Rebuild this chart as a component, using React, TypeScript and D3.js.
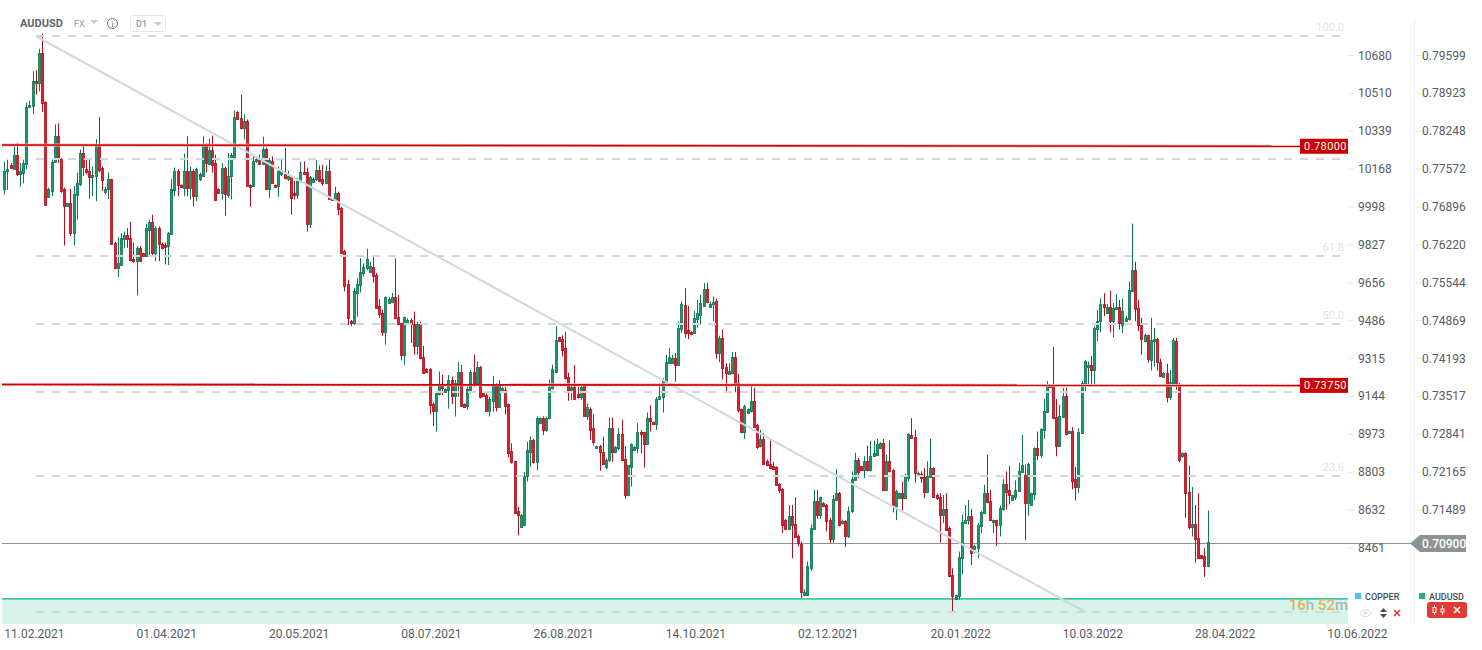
import React from 'react';
import * as d3 from 'd3';

// AUDUSD daily candles, prices in pips (0.7090 = 7090)
const opens = [
  7722,7753,7765,7758,7783,7748,7751,7767,7868,7870,
  7915,7911,7964,7877,7708,7718,7770,7817,7776,7721,
  7691,7697,7643,7711,7730,7786,7758,7754,7743,7745,
  7800,7760,7716,7721,7739,7626,7580,7587,7632,7640,
  7635,7597,7594,7616,7607,7602,7649,7663,7608,7652,
  7623,7621,7620,7642,7720,7753,7729,7724,7754,7723,
  7753,7709,7739,7745,7800,7767,7792,7768,7722,7715,
  7760,7711,7745,7779,7859,7849,7830,7843,7729,7727,
  7771,7774,7766,7793,7721,7772,7729,7727,7749,7749,
  7739,7743,7715,7711,7736,7752,7752,7659,7735,7739,
  7756,7739,7732,7753,7705,7703,7715,
  7688,7611,7552,7486,7482,7536,7550,7572,7580,7573,
  7583,7569,7513,7500,7466,7519,7521,7529,7493,7482,
  7426,7482,7488,7481,7442,7481,7422,7400,7400,7339,
  7326,7356,7372,7360,7363,7381,7353,7372,7395,7338,
  7335,7363,7395,7376,7404,7357,7355,7326,7344,7373,
  7333,7362,7364,7338,7254,7236,7147,7119,7122,7209,
  7253,7274,7234,7304,7313,7292,7313,7366,7396,7457,
  7454,7438,7386,7363,7369,7356,7351,7372,7317,7330,
  7295,7259,7263,7252,7226,7238,7295,7253,7259,7284,
  7240,7175,7225,7257,7259,7289,7288,7267,7313,7306,
  7302,7347,7350,7378,7412,7412,7420,7408,7472,7515,
  7470,7467,7465,7490,7497,7513,7543,7511,7516,7522,
  7429,7456,7404,7392,7394,7422,7376,7329,7289,7322,
  7325,7344,7301,7263,7276,7236,7232,7227,7225,7195,
  7187,7132,7116,7138,7125,7103,7089,6997,6998,7045,
  7115,7165,7141,7161,7158,7132,7098,7167,7179,7126,
  7129,7102,7147,7203,7239,7227,7221,7236,7220,7245,
  7248,7260,7269,7185,7236,7221,7157,7171,7179,7170,
  7206,7283,7279,7210,7214,7208,7181,7208,7224,7175,
  7173,7141,7150,7117,7033,6990,6995,7063,7126,7131,
  7138,7079,7081,7120,7144,7179,7165,7127,7131,7122,
  7151,7196,7185,7167,7173,7183,7217,7211,7161,7158,
  7177,7260,7248,7292,7324,7373,7373,7315,7264,7315,
  7353,7286,7290,7204,7191,7286,7373,7404,7408,7398,
  7472,7486,7517,7501,7511,7487,7507,7511,7480,7486,
  7489,7539,7577,7509,7479,7451,7461,7417,7451,7454,
  7414,7387,7393,7351,7376,7451,7374,7246,7251,7181,
  7118,7124,7099,7068,7067,7050,
];

const closes = [
  7754,7758,7759,7783,7749,7754,7768,7868,7872,7915,
  7911,7964,7876,7693,7721,7770,7817,7776,7718,7691,
  7697,7643,7713,7733,7786,7761,7752,7743,7746,7800,
  7755,7737,7722,7739,7624,7580,7590,7635,7639,7632,
  7595,7594,7617,7593,7602,7652,7663,7607,7652,7624,
  7617,7618,7643,7721,7753,7729,7725,7754,7723,7754,
  7709,7758,7748,7800,7768,7792,7765,7703,7715,7760,
  7712,7745,7782,7851,7846,7830,7843,7727,7725,7771,
  7776,7766,7793,7721,7774,7733,7726,7753,7755,7742,
  7745,7705,7711,7736,7752,7749,7659,7743,7739,7756,
  7736,7732,7753,7704,7703,7715,7686,
  7608,7548,7491,7482,7540,7552,7573,7582,7596,7585,
  7566,7510,7498,7466,7529,7525,7529,7492,7481,7426,
  7493,7488,7481,7442,7481,7420,7393,7396,7337,7326,
  7357,7370,7366,7365,7381,7353,7375,7395,7335,7333,
  7365,7395,7376,7404,7350,7353,7326,7347,7372,7333,
  7374,7367,7335,7251,7234,7144,7141,7140,7210,7256,
  7274,7234,7314,7313,7292,7313,7368,7400,7452,7451,
  7435,7384,7363,7369,7348,7351,7369,7317,7332,7292,
  7271,7263,7252,7232,7238,7295,7253,7261,7284,7238,
  7175,7229,7266,7261,7289,7285,7267,7314,7308,7302,
  7348,7353,7381,7414,7422,7420,7408,7473,7517,7465,
  7464,7463,7492,7501,7519,7543,7520,7517,7521,7429,
  7456,7402,7394,7397,7422,7373,7328,7289,7335,7329,
  7344,7298,7261,7276,7231,7229,7224,7222,7194,7184,
  7122,7116,7138,7123,7101,7090,7002,7002,7050,7117,
  7165,7141,7172,7157,7129,7098,7169,7179,7122,7129,
  7102,7148,7204,7239,7216,7221,7236,7220,7246,7250,
  7267,7269,7185,7236,7218,7158,7183,7179,7170,7208,
  7285,7278,7215,7215,7206,7181,7209,7224,7173,7170,
  7141,7151,7114,7031,6995,6997,7065,7128,7132,7139,
  7072,7084,7122,7145,7179,7163,7131,7131,7122,7153,
  7196,7182,7176,7175,7185,7219,7229,7161,7231,7179,
  7260,7248,7293,7326,7373,7368,7313,7263,7316,7353,
  7284,7290,7200,7191,7288,7376,7415,7408,7398,7474,
  7487,7517,7511,7511,7487,7509,7511,7483,7504,7492,
  7542,7577,7508,7479,7455,7461,7418,7452,7454,7414,
  7389,7393,7351,7377,7452,7374,7238,7251,7179,7118,
  7124,7098,7063,7064,7050,7092,
];

const highs = [
  7770,7774,7768,7798,7804,7768,7774,7876,7879,7932,
  7934,7972,7999,7878,7724,7774,7837,7839,7777,7724,
  7697,7722,7727,7751,7792,7801,7774,7774,7762,7811,
  7850,7762,7726,7751,7740,7627,7636,7643,7646,7652,
  7663,7626,7620,7620,7608,7660,7667,7676,7655,7655,
  7626,7626,7645,7739,7760,7757,7730,7785,7816,7762,
  7757,7760,7751,7816,7803,7811,7817,7783,7723,7768,
  7761,7786,7786,7862,7861,7890,7855,7846,7730,7783,
  7780,7783,7815,7795,7777,7780,7730,7762,7774,7795,
  7754,7745,7736,7742,7770,7771,7760,7745,7742,7773,
  7764,7765,7764,7774,7706,7726,7717,
  7690,7613,7560,7488,7545,7563,7598,7589,7615,7592,
  7600,7572,7525,7506,7530,7529,7536,7598,7533,7483,
  7494,7491,7491,7503,7485,7485,7442,7402,7402,7341,
  7360,7396,7390,7366,7390,7387,7381,7413,7408,7339,
  7369,7399,7426,7414,7406,7358,7357,7351,7388,7375,
  7381,7369,7369,7339,7268,7237,7155,7142,7217,7271,
  7280,7277,7316,7314,7316,7316,7382,7408,7477,7458,
  7461,7467,7394,7372,7408,7369,7372,7373,7339,7332,
  7320,7264,7265,7280,7241,7314,7314,7263,7295,7310,
  7263,7229,7268,7263,7304,7292,7289,7323,7336,7307,
  7351,7375,7384,7426,7438,7426,7429,7485,7521,7545,
  7513,7468,7505,7524,7533,7554,7554,7521,7530,7526,
  7460,7471,7411,7411,7431,7431,7392,7330,7337,7330,
  7371,7367,7303,7292,7286,7239,7273,7235,7227,7197,
  7188,7133,7158,7158,7172,7105,7093,7008,7057,7123,
  7185,7185,7173,7163,7160,7135,7176,7222,7181,7132,
  7131,7155,7218,7251,7242,7228,7245,7264,7272,7273,
  7276,7270,7276,7248,7273,7222,7185,7180,7200,7214,
  7286,7313,7292,7218,7218,7224,7236,7276,7225,7178,
  7179,7176,7179,7120,7045,6998,7075,7141,7158,7167,
  7151,7087,7126,7147,7194,7248,7185,7132,7132,7157,
  7204,7218,7228,7176,7202,7233,7283,7230,7233,7180,
  7261,7289,7295,7347,7379,7374,7440,7347,7337,7367,
  7367,7291,7297,7226,7295,7379,7417,7414,7424,7477,
  7506,7527,7536,7517,7540,7518,7534,7524,7526,7495,
  7557,7660,7592,7524,7492,7464,7462,7492,7474,7456,
  7419,7395,7410,7399,7456,7456,7376,7252,7252,7228,
  7190,7158,7179,7069,7081,7148,
];

const lows = [
  7712,7720,7758,7757,7745,7726,7732,7757,7868,7855,
  7890,7896,7859,7693,7706,7709,7770,7768,7715,7621,
  7691,7638,7621,7667,7727,7745,7748,7704,7709,7700,
  7751,7718,7712,7704,7623,7579,7565,7584,7617,7617,
  7593,7590,7532,7592,7601,7601,7601,7602,7593,7593,
  7614,7587,7586,7641,7709,7709,7724,7709,7709,7703,
  7691,7700,7736,7745,7751,7765,7751,7700,7714,7703,
  7674,7706,7703,7777,7845,7828,7810,7726,7690,7726,
  7768,7765,7765,7720,7706,7732,7725,7708,7745,7739,
  7736,7676,7703,7704,7733,7748,7646,7652,7732,7736,
  7734,7728,7730,7703,7702,7700,7675,
  7607,7539,7479,7477,7479,7494,7537,7566,7577,7573,
  7555,7509,7492,7460,7444,7517,7518,7491,7479,7416,
  7408,7479,7447,7426,7426,7418,7392,7394,7320,7299,
  7289,7354,7354,7358,7330,7338,7316,7351,7333,7332,
  7328,7357,7369,7374,7348,7351,7325,7316,7325,7325,
  7332,7360,7319,7243,7232,7143,7104,7118,7120,7200,
  7226,7232,7220,7303,7283,7289,7311,7364,7394,7450,
  7423,7382,7344,7345,7347,7348,7345,7316,7310,7274,
  7264,7258,7219,7231,7222,7235,7235,7250,7256,7237,
  7169,7174,7191,7255,7250,7250,7225,7266,7289,7301,
  7292,7345,7323,7375,7411,7411,7378,7406,7465,7456,
  7454,7463,7463,7474,7480,7513,7518,7511,7486,7419,
  7413,7382,7360,7391,7391,7359,7323,7286,7276,7321,
  7323,7297,7258,7261,7229,7227,7222,7221,7192,7179,
  7108,7113,7114,7063,7099,7084,6992,6996,6997,7040,
  7114,7133,7133,7154,7111,7090,7090,7166,7120,7123,
  7083,7099,7144,7202,7206,7220,7206,7218,7218,7244,
  7246,7259,7184,7185,7216,7145,7131,7170,7148,7169,
  7200,7276,7198,7209,7197,7170,7179,7206,7171,7167,
  7091,7126,7113,7029,6968,6989,6989,7034,7125,7123,
  7051,7072,7063,7108,7142,7161,7129,7108,7085,7102,
  7148,7150,7159,7166,7167,7181,7215,7095,7139,7157,
  7167,7238,7242,7276,7322,7367,7311,7245,7263,7313,
  7282,7285,7186,7166,7180,7285,7361,7374,7373,7374,
  7450,7466,7495,7499,7466,7457,7506,7471,7465,7485,
  7487,7538,7486,7468,7426,7448,7412,7398,7405,7398,
  7387,7386,7341,7345,7373,7364,7234,7242,7135,7115,
  7102,7055,7062,7063,7030,7047,
];

// the last tick of the right axis sits behind the price tag, so it is not listed
const priceTicks = ['0.79599','0.78923','0.78248','0.77572','0.76896','0.76220','0.75544','0.74869','0.74193','0.73517','0.72841','0.72165','0.71489'];
const copperTicks = ['10680','10510','10339','10168','9998','9827','9656','9486','9315','9144','8973','8803','8632','8461'];
const dateTicks = ['11.02.2021','01.04.2021','20.05.2021','08.07.2021','26.08.2021','14.10.2021','02.12.2021','20.01.2022','10.03.2022','28.04.2022','10.06.2022'];

const fibLevels = [100, 78.6, 61.8, 50, 38.2, 23.6, 0];
const fibLabelled = ['100.0', '', '61.8', '50.0', '', '23.6', ''];
const fibHigh = 7994.8;
const fibLow = 6967;
const fibBars = [10, 343.2]; // trend line from the high bar to the low bar

const resistance = [
  { label: '0.78000', from: 7800.3, to: 7798 },
  { label: '0.73750', from: 7373, to: 7371.4 },
];
const lastPrice = 7090;
const zoneTop = 6990.5;

const WIDTH = 1482;
const HEIGHT = 650;
const PLOT_RIGHT = 1348;
const PLOT_BOTTOM = 624;
const FONT = 'Roboto, sans-serif';

const App = () => {
  const y = d3.scaleLinear().domain([7081.3, 7959.9]).range([548, 55.5]);
  const x = d3.scaleLinear().domain([0, opens.length - 1]).range([4.3, 1207.5]);
  const tickY = d3.scalePoint<string>().domain(priceTicks).range([55.5, y(7148.9)]);
  const copperY = d3.scalePoint<string>().domain(copperTicks).range([55.5, 548]);
  const dateX = d3.scalePoint<string>().domain(dateTicks).range([4.3, 1327.3]);
  const fibY = (lvl: number) => Math.round(y(fibLow + ((fibHigh - fibLow) * lvl) / 100));
  const lastY = Math.round(y(lastPrice)) + 0.5;

  return (
    <svg
      width={WIDTH}
      height={HEIGHT}
      viewBox={`0 0 ${WIDTH} ${HEIGHT}`}
      style={{ position: 'fixed', left: 0, top: 0, background: '#fff', fontFamily: FONT }}
    >
      {/* zone at the bottom */}
      <rect x={2} y={y(zoneTop)} width={PLOT_RIGHT - 2} height={PLOT_BOTTOM - y(zoneTop)} fill="#d6f2e9" />
      <line x1={2} x2={PLOT_RIGHT} y1={y(zoneTop)} y2={y(zoneTop)} stroke="#00b386" strokeWidth={1.2} />

      {/* axis separator */}
      <line x1={1414.5} x2={1414.5} y1={18} y2={625} stroke="#eceef0" />

      {/* last price line */}
      <line x1={2} x2={1412} y1={lastY} y2={lastY} stroke="#8b9395" strokeWidth={1} />

      {/* candles */}
      <g>
        {opens.map((o, i) => {
          const c = closes[i];
          const up = c >= o;
          const cx = Math.round(x(i));
          const top = Math.round(y(Math.max(o, c)));
          const bottom = Math.round(y(Math.min(o, c)));
          return (
            <g key={i}>
              <line
                x1={cx + 0.5}
                x2={cx + 0.5}
                y1={y(highs[i])}
                y2={y(lows[i])}
                stroke={up ? '#0f7553' : '#b0101f'}
              />
              <rect
                x={cx - 0.5}
                y={top + 0.5}
                width={2}
                height={Math.max(bottom - top, 1)}
                fill={up ? '#1c9c6c' : '#e3202f'}
                stroke={up ? '#0f7553' : '#b0101f'}
                strokeOpacity={0.85}
              />
            </g>
          );
        })}
      </g>

      {/* fibonacci retracement */}
      <g>
        {fibLevels.map((lvl, i) => (
          <g key={lvl}>
            <line
              x1={36}
              x2={1345}
              y1={fibY(lvl)}
              y2={fibY(lvl)}
              stroke="#d0d8dc"
              strokeWidth={2}
              strokeDasharray="8 8"
            />
            {fibLabelled[i] && (
              <text x={1344} y={fibY(lvl) - 5} textAnchor="end" fontSize={11} fill="#dfe3e6">
                {fibLabelled[i]}
              </text>
            )}
          </g>
        ))}
        <line
          x1={x(fibBars[0])}
          x2={x(fibBars[1])}
          y1={fibY(100)}
          y2={fibY(0)}
          stroke="#cfd8dc"
          strokeWidth={2}
        />
      </g>

      {/* horizontal levels */}
      {resistance.map((r) => (
        <g key={r.label}>
          <line x1={2} x2={1300} y1={y(r.from)} y2={y(r.to)} stroke="#f3b3b3" strokeWidth={3} />
          <line x1={2} x2={1300} y1={y(r.from)} y2={y(r.to)} stroke="#cc0000" strokeWidth={1.6} />
          <rect x={1300} y={y(r.to) - 7.5} width={48} height={15} fill="#cc0000" />
          <text x={1325.5} y={y(r.to) + 4} textAnchor="middle" fontSize={11} letterSpacing={0.4} fill="#fff">
            {r.label}
          </text>
        </g>
      ))}

      {/* left axis */}
      {copperTicks.map((t) => (
        <g key={t}>
          <line x1={1348} x2={1354} y1={copperY(t)} y2={copperY(t)} stroke="#e6e8ea" />
          <text x={1358} y={copperY(t)! + 4} fontSize={12} fill="#555c62">{t}</text>
        </g>
      ))}
      {/* right axis */}
      {priceTicks.map((t) => (
        <g key={t}>
          <line x1={1415} x2={1421} y1={tickY(t)} y2={tickY(t)} stroke="#e6e8ea" />
          <text x={1422} y={tickY(t)! + 4} fontSize={12} fill="#555c62">{t}</text>
        </g>
      ))}
      {/* date axis */}
      {dateTicks.map((t) => (
        <g key={t}>
          <line x1={dateX(t)} x2={dateX(t)} y1={PLOT_BOTTOM} y2={PLOT_BOTTOM + 4} stroke="#e6e8ea" />
          <text x={dateX(t)} y={637.5} fontSize={12} fill="#555c62">{t}</text>
        </g>
      ))}

      {/* last price tag */}
      <path d={`M1410 ${lastY} L1420 ${lastY - 8.5} H1466 V${lastY + 8.5} H1420 Z`} fill="#8b9395" />
      <text x={1422} y={lastY + 4.5} fontSize={12} fontWeight={500} fill="#fff">0.70900</text>

      {/* countdown */}
      <text x={1348} y={610} textAnchor="end" fontSize={15} fontWeight={500}>
        <tspan fill="#d9b65c">16</tspan>
        <tspan fill="#a9b8b4">h </tspan>
        <tspan fill="#d9b65c">52</tspan>
        <tspan fill="#a9b8b4">m</tspan>
      </text>

      {/* header */}
      <text x={20} y={27} fontSize={11} fontWeight={700} fill="#5c6670">AUDUSD</text>
      <text x={74} y={27} fontSize={9} fontWeight={500} fill="#a8b2b8">FX</text>
      <path d="M90 20 H98 L94 24 Z" fill="#c4ccd0" />
      <circle cx={112.5} cy={23.5} r={5} fill="none" stroke="#6a747c" />
      <text x={112.5} y={27} textAnchor="middle" fontSize={8} fill="#6a747c">i</text>
      <rect x={130.5} y={15.5} width={35} height={16} rx={2} fill="#fff" stroke="#e4e7e9" />
      <text x={136} y={27} fontSize={9} fontWeight={500} fill="#8e989e">D1</text>
      <path d="M154 22 H162 L158 26 Z" fill="#c4ccd0" />

      {/* instrument legend */}
      <rect x={1355} y={593} width={6} height={6} fill="#4fc3f7" />
      <text x={1365} y={600} fontSize={9} fontWeight={500} fill="#444c54">COPPER</text>
      <rect x={1419} y={593} width={6} height={6} fill="#1fb27f" />
      <text x={1429} y={600} fontSize={9} fontWeight={500} fill="#444c54">AUDUSD</text>

      {/* legend controls */}
      <ellipse cx={1365.5} cy={613} rx={5.5} ry={3.5} fill="none" stroke="#d8dde0" />
      <circle cx={1365.5} cy={613} r={1.8} fill="#d8dde0" />
      <path d="M1380 612 L1383.5 608 L1387 612 Z M1380 614 H1387 L1383.5 618 Z" fill="#444c54" />
      <path d="M1394 610 L1400 616 M1400 610 L1394 616" stroke="#e53935" strokeWidth={1.6} />
      <rect x={1427} y={602} width={40} height={16} rx={3} fill="#e53935" />
      <path d="M1434.5 605 V615 M1442.5 605 V615" stroke="#fff" />
      <rect x={1433} y={607.5} width={3} height={5} fill="#e53935" stroke="#fff" />
      <rect x={1441} y={609} width={3} height={3} fill="#e53935" stroke="#fff" />
      <path d="M1454 607 L1460 613 M1460 607 L1454 613" stroke="#fff" strokeWidth={1.6} />
    </svg>
  );
};

export default App;
